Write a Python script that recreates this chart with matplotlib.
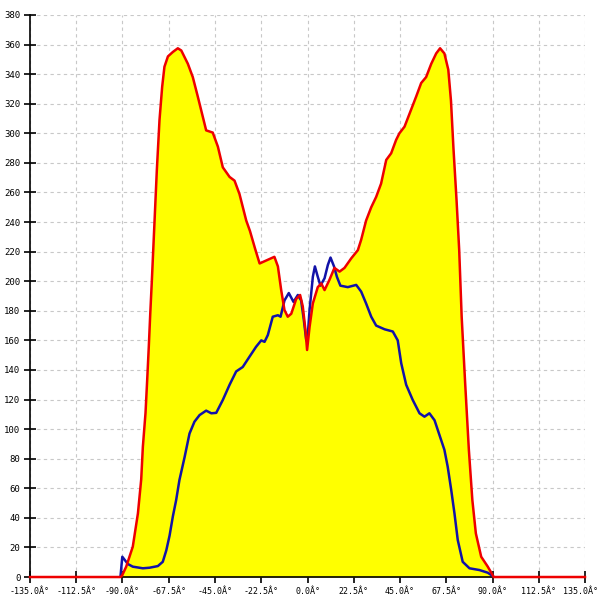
import matplotlib
matplotlib.use('Agg')
import matplotlib.pyplot as plt
import matplotlib.transforms as mtransforms
import numpy as np

# angulos (graus) e valores
red_x = [-135, -91.0, -90.2, -88.2, -85.0, -82.5, -80.9, -80.1, -78.8, -78.0, -77.2, -76.5,
         -75.7, -74.4, -73.3, -72.0, -70.7, -69.6, -67.9, -65.5, -63.1, -61.4, -58.2, -55.8,
         -53.4, -50.9, -49.3, -46.1, -43.6, -41.2, -37.9, -35.5, -33.1, -29.8, -28.0, -25.5,
         -23.3, -20.1, -16.1, -14.4, -12.8, -11.2, -9.6, -7.9, -5.5, -3.6, -2.3, -1.0, -0.2,
         1.0, 2.6, 5.0, 6.7, 8.3, 10.7, 13.1, 15.6, 18.0, 21.3, 24.5, 26.1, 28.5, 31.0, 33.4,
         35.8, 38.3, 40.7, 43.1, 44.7, 47.2, 50.4, 52.9, 55.3, 57.7, 60.2, 62.6, 64.5, 66.6,
         68.5, 69.8, 71.0, 72.5, 73.8, 75.0, 76.7, 78.5, 80.2, 81.9, 84.5, 87.7, 90.0, 90.5, 135]
red_y = [0, 0, 1, 7, 20.5, 43, 66, 88, 111, 133, 156, 178,
         201, 241, 275, 309, 331.5, 345, 352, 355, 357.5, 356, 347, 338,
         325, 311, 302, 300.5, 291, 277, 270.5, 268, 259, 241, 234, 222,
         212, 214, 216.5, 210, 194, 180.5, 176, 178, 188, 190.7, 183, 167, 153.5,
         169, 185, 196, 198.5, 194, 201, 209, 206.5, 209, 215.5, 221, 228, 241, 250, 257,
         266, 282, 286.5, 295.5, 300, 304.5, 316, 325, 334, 338, 347, 354, 357.5, 354,
         343, 322, 290, 255, 221, 176, 131, 86, 52, 29.5, 13.7, 7, 1.5, 0, 0]

blue_x = [-91.0, -90.1, -87.4, -85.0, -80.1, -76.8, -72.8, -70.4, -68.7, -67.1, -65.5, -63.9,
          -62.3, -59.8, -57.4, -55.0, -52.5, -49.3, -46.8, -44.4, -41.2, -37.9, -34.7, -31.5,
          -28.2, -25.0, -22.5, -20.9, -19.3, -16.9, -14.4, -13.1, -11.2, -9.1, -6.8, -4.7,
          -3.1, -1.8, -0.6, 0.0, 1.0, 2.6, 3.6, 5.0, 6.3, 8.3, 9.9, 11.2, 12.9, 14.3, 16.0,
          19.6, 23.7, 26.1, 28.5, 31.0, 33.4, 37.5, 41.5, 43.9, 45.6, 48.0, 51.2, 54.5, 56.9,
          59.3, 61.8, 64.2, 66.6, 68.2, 69.9, 71.5, 73.1, 75.5, 78.8, 83.7, 87.7, 90.1]
blue_y = [0, 13.7, 8.8, 7, 5.9, 6.3, 7.4, 10.3, 18, 28, 41, 52,
          65.6, 81, 97, 105, 109.5, 112.5, 110.7, 111, 119.7, 130, 139, 142,
          149, 155.7, 160, 159, 163.6, 176, 177, 176, 187, 192, 186, 190.7,
          187, 174, 160, 161, 180.5, 203, 210, 203, 197, 202, 211, 216, 210, 203, 197,
          196, 197.5, 193, 185, 176, 170, 167.5, 166, 160, 144.5, 130, 119.7, 110.7, 108.4,
          110.7, 106, 96, 86, 74.6, 59, 43, 25, 10.3, 5.9, 4.7, 2.9, 0.7]

xticks = np.arange(-135, 135.1, 22.5)
xlabels = ['%.1fÂ°' % t for t in xticks]
yticks = np.arange(0, 381, 20)

fig = plt.figure(figsize=(6, 6), dpi=100)
ax = fig.add_axes([0.05, 0.0383, 0.925, 0.9367])

ax.fill_between(red_x, red_y, 0, color='#ffff00', linewidth=0, zorder=1)
ax.plot(blue_x, blue_y, color='#1212a8', linewidth=1.8, zorder=3)
ax.plot(red_x, red_y, color='#ee0000', linewidth=1.8, zorder=4, clip_on=False)

ax.set_xlim(-135, 135)
ax.set_ylim(0, 380)
ax.set_xticks(xticks)
ax.set_xticklabels(xlabels)
ax.set_yticks(yticks)

ax.grid(True, color='#c8c8c8', linestyle=(0, (3, 3)), linewidth=0.8, zorder=0)
ax.set_axisbelow(True)

for s in ['top', 'right']:
    ax.spines[s].set_visible(False)
ax.spines['left'].set_linewidth(1.2)
ax.spines['bottom'].set_linewidth(1.2)
ax.tick_params(direction='inout', length=8, width=1.2, pad=3)
ax.tick_params(axis='y', labelsize=6.5)
ax.tick_params(axis='x', labelsize=6)
for lbl in ax.get_xticklabels() + ax.get_yticklabels():
    lbl.set_family('DejaVu Sans Mono')

# o ultimo rotulo fica um pouco para a esquerda para caber na figura
ultimo = ax.get_xticklabels()[-1]
ultimo.set_transform(ultimo.get_transform() +
                     mtransforms.ScaledTranslation(-5 / 100, 0, fig.dpi_scale_trans))

fig.savefig('out.png', dpi=100)
